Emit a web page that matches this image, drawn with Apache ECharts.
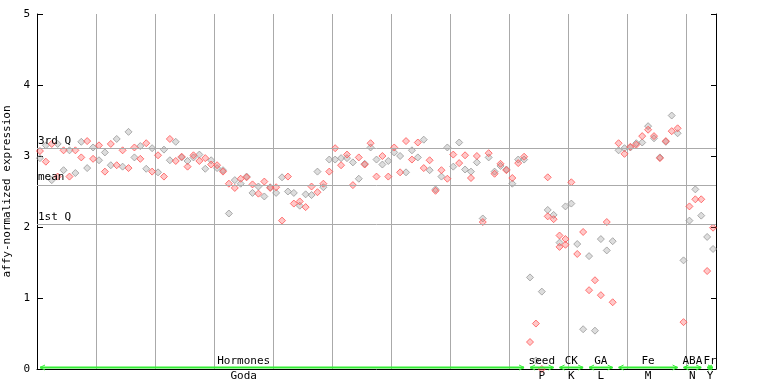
<!DOCTYPE html>
<html><head><meta charset="utf-8">
<script src="https://cdn.jsdelivr.net/npm/echarts/dist/echarts.min.js"></script>
<style>html,body{margin:0;padding:0;background:#fff}#c{width:768px;height:384px}</style>
</head><body><div id="c"></div>
<script>
// replicate values per sample (sample k drawn at k + 0.5)
const upper = [3.07,3.15,3.17,3.17,3.08,3.08,3.08,3.20,3.21,3.12,
3.15,3.05,3.17,3.24,3.08,3.34,3.12,3.14,3.18,3.11,
3.01,3.09,3.24,3.20,2.99,2.93,3.01,3.02,2.97,2.94,
2.87,2.80,2.61,2.66,2.68,2.71,2.60,2.57,2.64,2.56,
2.56,2.70,2.71,2.48,2.36,2.46,2.57,2.78,2.61,2.95,
3.11,2.97,3.02,2.91,2.98,2.89,3.18,2.95,3.00,2.93,
3.12,3.00,3.21,3.08,3.19,3.23,2.94,2.53,2.80,3.12,
3.02,3.19,3.01,2.78,3.00,2.12,3.04,2.78,2.89,2.81,
2.69,2.95,2.99,1.29,0.64,1.09,2.70,2.17,1.88,2.29,
2.63,1.76,1.93,1.59,1.25,1.83,2.07,1.80,3.18,3.11,
3.13,3.18,3.28,3.42,3.28,2.98,3.21,3.57,3.39,1.53,
2.29,2.53,2.39,1.86,1.99];
const lower = [2.97,2.92,2.66,2.71,2.80,2.71,2.76,2.98,2.83,2.96,
2.94,2.78,2.87,2.87,2.85,2.83,2.98,2.96,2.82,2.78,
2.77,2.71,2.94,2.93,2.98,2.85,2.98,2.93,2.82,2.88,
2.83,2.78,2.19,2.55,2.61,2.70,2.48,2.47,2.43,2.55,
2.48,2.09,2.50,2.33,2.30,2.28,2.45,2.49,2.56,2.78,
2.95,2.87,2.97,2.59,2.68,2.88,3.12,2.71,2.88,2.71,
3.05,2.77,2.77,2.95,2.98,2.83,2.80,2.51,2.71,2.68,
2.85,2.90,2.81,2.69,2.91,2.07,2.98,2.75,2.86,2.80,
2.61,2.90,2.95,0.38,0.12,0.00,2.24,2.11,1.78,1.83,
2.33,1.62,0.56,1.11,0.54,1.04,1.67,0.94,3.08,3.03,
3.12,3.16,3.19,3.37,3.25,2.97,3.20,3.35,3.32,0.66,
2.09,2.39,2.16,1.38,1.69];
const extraIdx = [86, 88, 89];
const extraVal = [2.15, 1.72, 1.75];
const refNames = ['3rd Q', 'mean', '1st Q'];
const refValues = [3.11, 2.59, 2.04];
const groupNames = ['Hormones', 'seed', 'CK', 'GA', 'Fe', 'ABA', 'Fr'];
const groupSubs = ['Goda', 'P', 'K', 'L', 'M', 'N', 'Y'];
const groupStarts = [0, 83, 88, 93, 98, 109, 113];
const groupEnds = [83, 88, 93, 98, 109, 113, 115];
const yTicks = [0, 1, 2, 3, 4, 5];

const FONT = 'DejaVu Sans Mono';
const RED = '#ff5555', GRAY = '#999999';
const redPts = [], grayPts = [];
upper.forEach((v, k) => { (k % 2 === 0 ? redPts : grayPts).push([k + 0.5, v]); });
lower.forEach((v, k) => { (k % 2 === 0 ? grayPts : redPts).push([k + 0.5, v]); });
extraIdx.forEach((k, i) => redPts.push([k + 0.5, extraVal[i]]));

const chart = echarts.init(document.getElementById('c'), null, {renderer: 'canvas'});
const markerStyle = c => ({color: c === RED ? 'rgba(255,85,85,0.40)' : 'rgba(150,150,150,0.40)', borderColor: c, borderWidth: 1});
chart.setOption({
  animation: false,
  grid: {left: 37, right: 52, top: 14, bottom: 15, containLabel: false, outerBoundsMode: 'none'},
  xAxis: {type: 'value', min: 0, max: 115, interval: 10,
    axisLine: {show: true, lineStyle: {color: '#000'}}, axisTick: {show: false}, axisLabel: {show: false},
    splitLine: {show: true, lineStyle: {color: '#aaaaaa', width: 1}}},
  yAxis: [
    {type: 'value', min: yTicks[0], max: yTicks[yTicks.length - 1], interval: 1,
     name: 'affy-normalized expression', nameLocation: 'middle', nameGap: 21,
     nameTextStyle: {fontFamily: FONT, fontSize: 11, color: '#000'},
     axisLine: {show: true, lineStyle: {color: '#000'}},
     axisTick: {show: true, inside: true, length: 6, lineStyle: {color: '#000'}},
     axisLabel: {fontFamily: FONT, fontSize: 11, color: '#000', margin: 7},
     splitLine: {show: false}},
    {type: 'value', min: 0, max: 5, interval: 1, position: 'right',
     axisLine: {show: true, lineStyle: {color: '#000'}},
     axisTick: {show: true, inside: true, length: 5, lineStyle: {color: '#000'}},
     axisLabel: {show: false}, splitLine: {show: false}}
  ],
  series: [
    {type: 'scatter', data: [], silent: true,
     markLine: {silent: true, symbol: 'none', animation: false,
       lineStyle: {color: '#aaaaaa', type: 'solid', width: 1},
       label: {position: 'insideStartTop', formatter: '{b}', fontFamily: FONT, fontSize: 11, color: '#000', distance: [1, 2]},
       data: refValues.map((v, i) => ({yAxis: v, name: refNames[i]}))}},
    {type: 'scatter', data: grayPts, symbol: 'diamond', symbolSize: 7, itemStyle: markerStyle(GRAY)},
    {type: 'scatter', data: redPts, symbol: 'diamond', symbolSize: 7, itemStyle: markerStyle(RED)}
  ]
});

const px = x => chart.convertToPixel({xAxisIndex: 0, yAxisIndex: 0}, [x, 0]);
const graphic = [];
const GREEN = '#33ee33';
groupNames.forEach((name, i) => {
  const a = px(groupStarts[i])[0] + 3, b = px(groupEnds[i])[0] - 3;
  const y = px(0)[1] - 1.5;
  graphic.push({type: 'line', shape: {x1: a, y1: y, x2: b, y2: y}, style: {stroke: GREEN, lineWidth: 2}, z: 50});
  graphic.push({type: 'polyline', shape: {points: [[a + 5, y - 2.5], [a, y], [a + 5, y + 2.5]]}, style: {stroke: GREEN, fill: null, lineWidth: 1}, z: 50});
  graphic.push({type: 'polyline', shape: {points: [[b - 5, y - 2.5], [b, y], [b - 5, y + 2.5]]}, style: {stroke: GREEN, fill: null, lineWidth: 1}, z: 50});
  const mid = i === 0 ? px(35)[0] : px((groupStarts[i] + groupEnds[i]) / 2)[0];
  graphic.push({type: 'text', x: mid, y: y - 6, style: {text: name, fontFamily: FONT, fontSize: 11, fill: '#000', align: 'center', verticalAlign: 'middle'}, z: 60});
  graphic.push({type: 'text', x: mid, y: y + 9, style: {text: groupSubs[i], fontFamily: FONT, fontSize: 11, fill: '#000', align: 'center', verticalAlign: 'middle'}, z: 60});
});
chart.setOption({graphic});
</script></body></html>
